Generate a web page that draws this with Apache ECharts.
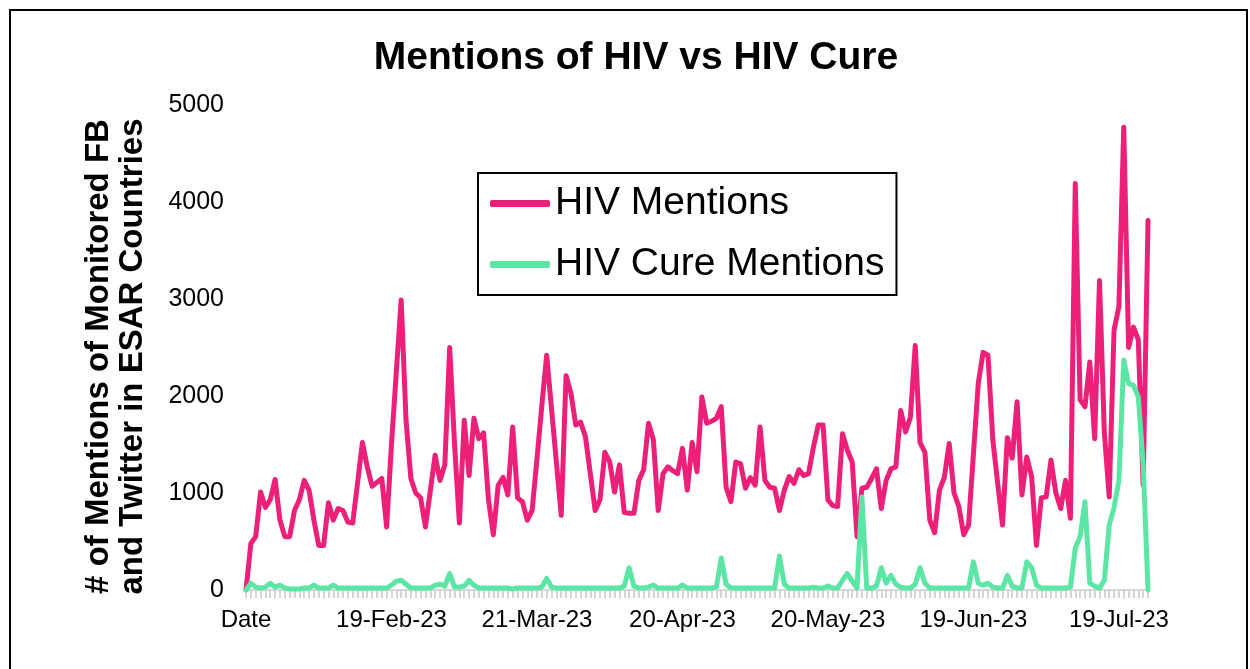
<!DOCTYPE html>
<html lang="en">
<head>
    <meta charset="UTF-8">
    <title>Mentions of HIV vs HIV Cure</title>
    <script src="https://cdn.jsdelivr.net/npm/echarts@6/dist/echarts.min.js"></script>
    <style>
        html, body { margin: 0; padding: 0; background: #fff; }
    </style>
</head>
<body>
    <div id="main" style="width: 1250px;height:669px;"></div>
    <script type="text/javascript">
        // daily counts, index 0 is the "Date" header row, then 21-Jan-23 ... 25-Jul-23
        var hivMentions = [
            0, 480, 550, 1010, 850, 930, 1140, 720, 550, 550,
            820, 930, 1130, 1030, 720, 460, 460, 900, 720, 840,
            820, 700, 690, 1100, 1520, 1270, 1070, 1110, 1150, 650,
            1500, 2250, 2990, 1750, 1150, 1000, 950, 650, 1020, 1390,
            1130, 1290, 2500, 1510, 690, 1750, 1180, 1770, 1560, 1620,
            930, 570, 1080, 1160, 980, 1680, 950, 910, 720, 820,
            1350, 1900, 2420, 1870, 1320, 770, 2210, 2030, 1700, 1730,
            1580, 1200, 820, 930, 1420, 1320, 1010, 1290, 800, 790,
            790, 1130, 1240, 1720, 1550, 820, 1200, 1270, 1230, 1200,
            1460, 1030, 1520, 1220, 1990, 1720, 1740, 1770, 1890, 1060,
            910, 1320, 1300, 1050, 1160, 1080, 1680, 1130, 1060, 1050,
            820, 1030, 1170, 1100, 1240, 1180, 1200, 1470, 1700, 1700,
            930, 870, 860, 1610, 1440, 1320, 550, 1050, 1060, 1150,
            1250, 840, 1130, 1250, 1270, 1850, 1630, 1780, 2520, 1520,
            1420, 720, 590, 1030, 1160, 1510, 1000, 860, 570, 670,
            1400, 2130, 2450, 2420, 1550, 1100, 670, 1570, 1360, 1940,
            980, 1370, 1170, 460, 950, 960, 1340, 1000, 840, 1130,
            740, 4190, 1960, 1890, 2350, 1560, 3190, 1620, 960, 2680,
            2920, 4770, 2500, 2710, 2580, 1080, 3810
        ]
        var cureMentions = [
            0, 70, 30, 20, 30, 70, 30, 50, 20, 10,
            10, 10, 20, 20, 50, 20, 20, 20, 50, 20,
            20, 20, 20, 20, 20, 20, 20, 20, 20, 20,
            50, 90, 100, 60, 20, 20, 20, 20, 20, 50,
            60, 40, 170, 30, 30, 40, 100, 50, 20, 20,
            20, 20, 20, 20, 20, 10, 20, 20, 20, 20,
            20, 30, 120, 30, 20, 20, 20, 20, 20, 20,
            20, 20, 20, 20, 20, 20, 20, 20, 40, 230,
            40, 20, 20, 30, 50, 20, 20, 20, 20, 20,
            50, 20, 20, 20, 20, 20, 20, 30, 330, 60,
            20, 20, 20, 20, 20, 20, 20, 20, 20, 20,
            350, 60, 20, 20, 20, 20, 20, 30, 20, 20,
            40, 20, 20, 100, 170, 90, 20, 960, 20, 20,
            40, 230, 70, 150, 60, 30, 20, 20, 60, 230,
            70, 20, 20, 20, 20, 20, 20, 20, 20, 20,
            290, 70, 50, 70, 30, 20, 20, 150, 40, 20,
            20, 290, 230, 50, 20, 20, 20, 20, 20, 20,
            30, 430, 550, 910, 70, 40, 20, 100, 670, 850,
            1130, 2370, 2130, 2110, 1990, 1300, 0
        ]
        var seriesNames = ['HIV Mentions', 'HIV Cure Mentions']
        var yTicks = [0, 1000, 2000, 3000, 4000, 5000]

        // category labels: header cell then one date per day
        var months = ['Jan', 'Feb', 'Mar', 'Apr', 'May', 'Jun', 'Jul', 'Aug', 'Sep', 'Oct', 'Nov', 'Dec']
        var dates = ['Date']
        for (var i = 1; i < hivMentions.length; i++) {
            var d = new Date(Date.UTC(2023, 0, 20 + i))
            dates.push(d.getUTCDate() + '-' + months[d.getUTCMonth()] + '-' + String(d.getUTCFullYear()).slice(2))
        }

        var font = '"Liberation Sans", Arial, sans-serif'
        var myChart = echarts.init(document.getElementById('main'))

        var option = {
            animation: false,
            backgroundColor: '#fff',
            textStyle: { fontFamily: font },
            title: {
                text: 'Mentions of HIV vs HIV Cure',
                left: 631,
                textAlign: 'center',
                top: 34,
                textStyle: { fontFamily: font, fontSize: 39, fontWeight: 'bold', color: '#000' }
            },
            graphic: [{
                type: 'rect',
                shape: { x: 10, y: 10, width: 1237, height: 680 },
                style: { fill: null, stroke: '#000', lineWidth: 2 },
                silent: true
            }],
            legend: {
                orient: 'vertical',
                left: 478,
                top: 173,
                padding: [11, 12, 11, 12],
                itemGap: 22,
                itemWidth: 60,
                itemHeight: 7,
                icon: 'roundRect',
                borderColor: '#000',
                borderWidth: 2,
                backgroundColor: '#fff',
                textStyle: { fontFamily: font, fontSize: 39, color: '#000' },
                data: seriesNames
            },
            grid: { left: 246, right: 102, top: 105, bottom: 79 },
            xAxis: {
                type: 'category',
                data: dates,
                boundaryGap: false,
                axisLine: { lineStyle: { color: '#d9d9d9', width: 2 } },
                axisTick: { interval: 0, length: 8, lineStyle: { color: '#c8c8c8', width: 1.5 } },
                axisLabel: { interval: 29, margin: 18, fontSize: 24, color: '#000', fontFamily: font }
            },
            yAxis: {
                type: 'value',
                min: yTicks[0],
                max: yTicks[yTicks.length - 1],
                interval: 1000,
                name: '# of Mentions of Monitored FB\nand Twitter in ESAR Countries',
                nameLocation: 'middle',
                nameRotate: 90,
                nameGap: 96,
                nameTextStyle: {
                    fontFamily: font, fontSize: 33, fontWeight: 'bold', color: '#000',
                    lineHeight: 34, padding: [0, 18, 0, 0]
                },
                axisLine: { show: false },
                axisTick: { show: false },
                splitLine: { show: false },
                axisLabel: {
                    margin: 22, fontSize: 25, color: '#000', fontFamily: font,
                    formatter: function (v) { return String(v) }
                }
            },
            series: [{
                name: seriesNames[0],
                type: 'line',
                data: hivMentions,
                showSymbol: false,
                symbol: 'none',
                color: '#EC1F79',
                lineStyle: { width: 5, color: '#EC1F79', join: 'round', cap: 'round' }
            }, {
                name: seriesNames[1],
                type: 'line',
                data: cureMentions,
                showSymbol: false,
                symbol: 'none',
                color: '#5CE6A5',
                lineStyle: { width: 5, color: '#5CE6A5', join: 'round', cap: 'round' }
            }]
        }
        myChart.setOption(option)
    </script>
</body>
</html>
